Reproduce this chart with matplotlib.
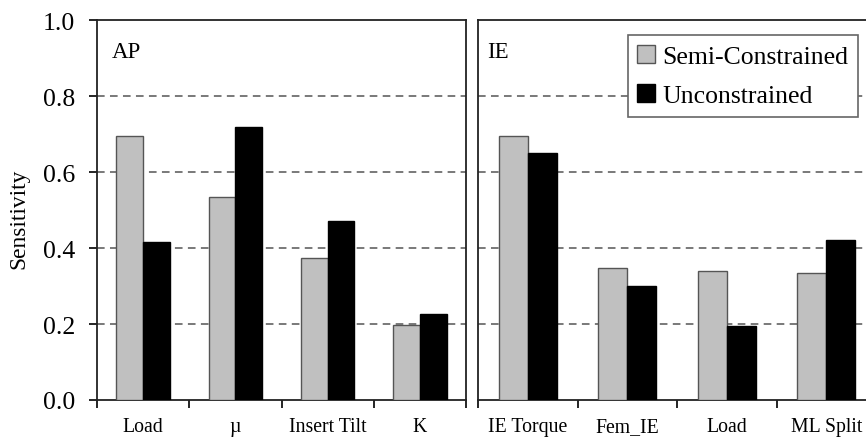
import numpy
import matplotlib
matplotlib.use('Agg')
import matplotlib.pyplot as plt
from matplotlib.ticker import FixedLocator, NullFormatter

# sensitivity values per factor
ap_factors = ['Load', 'µ', 'Insert Tilt', 'K']
ap_semi = [0.695, 0.534, 0.374, 0.198]
ap_uncon = [0.417, 0.719, 0.472, 0.227]

ie_factors = ['IE Torque', 'Fem_IE', 'Load', 'ML Split']
ie_semi = [0.696, 0.347, 0.340, 0.333]
ie_uncon = [0.651, 0.301, 0.196, 0.422]

series_names = ['Semi-Constrained', 'Unconstrained']
y_ticks = [0.0, 0.2, 0.4, 0.6, 0.8, 1.0]

plt.rcParams['font.family'] = ['Liberation Serif', 'DejaVu Serif']

fig = plt.figure(figsize=(8.66, 4.39), dpi=100)
ax_ap = fig.add_axes([97/866, 38/439, 369/866, 380/439])
ax_ie = fig.add_axes([478/866, 38/439, 398/866, 380/439])

bar_w = 0.29
semi_color = '#c0c0c0'
semi_edge = '#555555'


def draw_panel(ax, factors, semi, uncon, title, title_x):
    x = numpy.arange(len(factors))
    ax.bar(x - bar_w/2, semi, bar_w, color=semi_color, edgecolor=semi_edge,
           linewidth=1.0, label=series_names[0], zorder=3)
    ax.bar(x + bar_w/2, uncon, bar_w, color='black', edgecolor='black',
           linewidth=1.0, label=series_names[1], zorder=3)
    ax.set_xlim(-0.5, len(factors) - 0.5)
    ax.set_ylim(0, 1.0)
    for yv in y_ticks[1:-1]:
        ax.axhline(yv, color='#555555', linestyle=(0, (5, 3.5)), linewidth=1.1, zorder=1)
    # boundaries get tick marks, centres carry the names
    ax.xaxis.set_major_locator(FixedLocator(numpy.arange(len(factors) + 1) - 0.5))
    ax.xaxis.set_major_formatter(NullFormatter())
    ax.xaxis.set_minor_locator(FixedLocator(x))
    ax.set_xticklabels(factors, minor=True, fontsize=14.2)
    ax.tick_params(axis='x', which='major', direction='out', length=6, width=1.2)
    ax.tick_params(axis='x', which='minor', length=0, pad=12.5)
    for s in ax.spines.values():
        s.set_linewidth(1.3)
        s.set_color('#222222')
    ax.text(title_x, 0.945, title, transform=ax.transAxes,
            fontsize=16.5, va='top', ha='left')


draw_panel(ax_ap, ap_factors, ap_semi, ap_uncon, 'AP', 0.04)
draw_panel(ax_ie, ie_factors, ie_semi, ie_uncon, 'IE', 0.022)

ax_ap.set_yticks(y_ticks)
ax_ap.set_yticklabels(['%.1f' % v for v in y_ticks], fontsize=18.5)
ax_ap.tick_params(axis='y', direction='out', length=6, width=1.2, pad=10)
ax_ap.set_ylabel('Sensitivity', fontsize=16.8)
ax_ap.yaxis.set_label_coords(-0.183, 0.48)

ax_ie.set_yticks(y_ticks)
ax_ie.tick_params(axis='y', length=0, labelleft=False)

leg = ax_ie.legend(loc='upper right', bbox_to_anchor=(0.955, 0.96), borderaxespad=0,
                   fontsize=18.5, fancybox=False, framealpha=1, edgecolor='#666666',
                   handlelength=0.7, handleheight=0.7, handletextpad=0.28,
                   labelspacing=0.65, borderpad=0.37)
leg.get_frame().set_linewidth(1.2)

fig.savefig('out.png', dpi=100)
